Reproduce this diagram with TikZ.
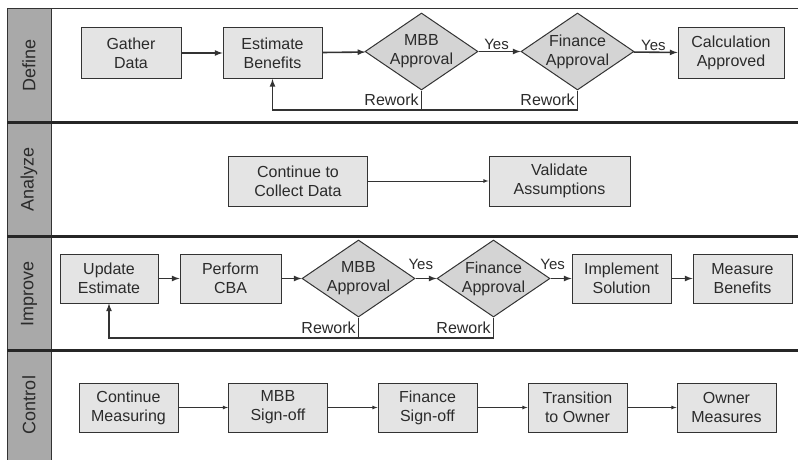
\documentclass[tikz,border=0pt]{standalone}
\usepackage{fontspec}
\setmainfont{Liberation Sans}
\usepackage{tikz}
\usetikzlibrary{shapes.geometric}

\definecolor{boxfill}{HTML}{E4E4E4}
\definecolor{diafill}{HTML}{D4D4D4}
\definecolor{lanefill}{HTML}{A9A9A9}
\definecolor{inkline}{HTML}{333333}
\definecolor{inktext}{HTML}{2B2B2B}

\tikzset{
  stepbox/.style = {rectangle,
      draw = inkline,
      fill = boxfill,
      line width = 1pt,
      text = inktext,
      align = center,
      inner sep = 0pt,
      font = \fontsize{16}{19}\selectfont,
      minimum width = 99pt,
      minimum height = 51pt},
  decide/.style = {diamond,
      draw = inkline,
      fill = diafill,
      line width = 1pt,
      text = inktext,
      align = center,
      aspect = 1.45,
      inner sep = -1pt,
      font = \fontsize{16}{19}\selectfont,
      minimum width = 113pt,
      minimum height = 77pt},
  flow/.style = {-latex, draw = inkline, line width = 1.6pt},
  thinflow/.style = {-latex, draw = inkline, line width = 0.8pt},
  loopline/.style = {draw = inkline, line width = 1.6pt},
  yeslabel/.style = {text = inktext, font = \fontsize{15}{17}\selectfont, inner sep = 1pt},
  rework/.style = {left, text = inktext, font = \fontsize{16}{18}\selectfont, inner sep = 2pt},
  lanename/.style = {rotate = 90, text = inktext, font = \fontsize{18}{20}\selectfont}
}

\begin{document}
\begin{tikzpicture}[x=1pt, y=-1pt]
\useasboundingbox (0,0) rectangle (798,460);

% lanes and the grey name column
\fill[lanefill] (7,9) rectangle (51,460);
\draw[inkline, line width = 1pt] (7,460) -- (7,9) -- (798,9);
\draw[inkline, line width = 1pt] (51,9) -- (51,460);
\draw[black!85, line width = 2.5pt] (7,122.5) -- (798,122.5);
\draw[black!85, line width = 2.5pt] (7,236.5) -- (798,236.5);
\draw[black!85, line width = 2.5pt] (7,350.5) -- (798,350.5);

\node[lanename] (lnDefine) at (29,65.5) {Define};
\node[lanename] (lnAnalyze) at (29,179.5) {Analyze};
\node[lanename] (lnImprove) at (29,293.5) {Improve};
\node[lanename] (lnControl) at (29,405) {Control};

% define lane
\node[stepbox, minimum width = 100pt] (gatherB) at (131,53) {Gather\\Data};
\node[stepbox] (estB) at (272.5,53) {Estimate\\Benefits};
\node[decide] (mbbD) at (421.5,51.5) {MBB\\Approval};
\node[decide] (finD) at (577.5,51.5) {Finance\\Approval};
\node[stepbox, minimum width = 106pt] (calcB) at (731,53) {Calculation\\Approved};
\coordinate (loopD) at (273,110);

\draw[flow] (gatherB) -- (estB);
\draw[flow] (estB) -- (mbbD);
\draw[flow] (mbbD) -- node[yeslabel, above, pos = 0.43] {Yes} (finD);
\draw[flow] (finD) -- node[yeslabel, above, pos = 0.45] {Yes} (calcB);
\draw[flow] (finD.south) -- node[rework] {Rework} (finD.south |- loopD) -| (estB.south);
\draw[loopline] (mbbD.south) -- node[rework] {Rework} (mbbD.south |- loopD);

% analyze lane
\node[stepbox, minimum width = 139pt, minimum height = 50pt] (collectB) at (298,181) {Continue to\\Collect Data};
\node[stepbox, minimum width = 141pt, minimum height = 50pt] (validB) at (559.5,181) {Validate\\Assumptions};

\draw[thinflow] (collectB) -- (validB);

% improve lane
\node[stepbox, minimum width = 98pt, minimum height = 49pt] (updB) at (109,278.5) {Update\\Estimate};
\node[stepbox, minimum width = 101pt, minimum height = 49pt] (cbaB) at (230.5,278.5) {Perform\\CBA};
\node[decide] (mbbI) at (358.5,278.5) {MBB\\Approval};
\node[decide] (finI) at (493.5,278.5) {Finance\\Approval};
\node[stepbox, minimum height = 49pt] (implB) at (621.5,278.5) {Implement\\Solution};
\node[stepbox, minimum height = 49pt] (measB) at (742.5,278.5) {Measure\\Benefits};
\coordinate (loopI) at (109,338);

\draw[flow] (updB) -- (cbaB);
\draw[flow] (cbaB) -- (mbbI);
\draw[flow] (mbbI) -- node[yeslabel, above = 7pt, pos = 0.25] {Yes} (finI);
\draw[flow] (finI) -- node[yeslabel, above = 7pt, pos = 0.1] {Yes} (implB);
\draw[flow] (implB) -- (measB);
\draw[flow] (finI.south) -- node[rework] {Rework} (finI.south |- loopI) -| (updB.south);
\draw[loopline] (mbbI.south) -- node[rework] {Rework} (mbbI.south |- loopI);

% control lane
\node[stepbox, minimum height = 49pt] (contB) at (128.5,407.5) {Continue\\Measuring};
\node[stepbox, minimum height = 49pt] (mbbS) at (278,407.5) {MBB\\Sign-off};
\node[stepbox, minimum height = 49pt] (finS) at (427.5,407.5) {Finance\\Sign-off};
\node[stepbox, minimum height = 49pt] (transB) at (577.5,407.5) {Transition\\to Owner};
\node[stepbox, minimum height = 49pt] (ownB) at (726.5,407.5) {Owner\\Measures};

\draw[thinflow] (contB) -- (mbbS);
\draw[thinflow] (mbbS) -- (finS);
\draw[thinflow] (finS) -- (transB);
\draw[thinflow] (transB) -- (ownB);

\end{tikzpicture}
\end{document}
